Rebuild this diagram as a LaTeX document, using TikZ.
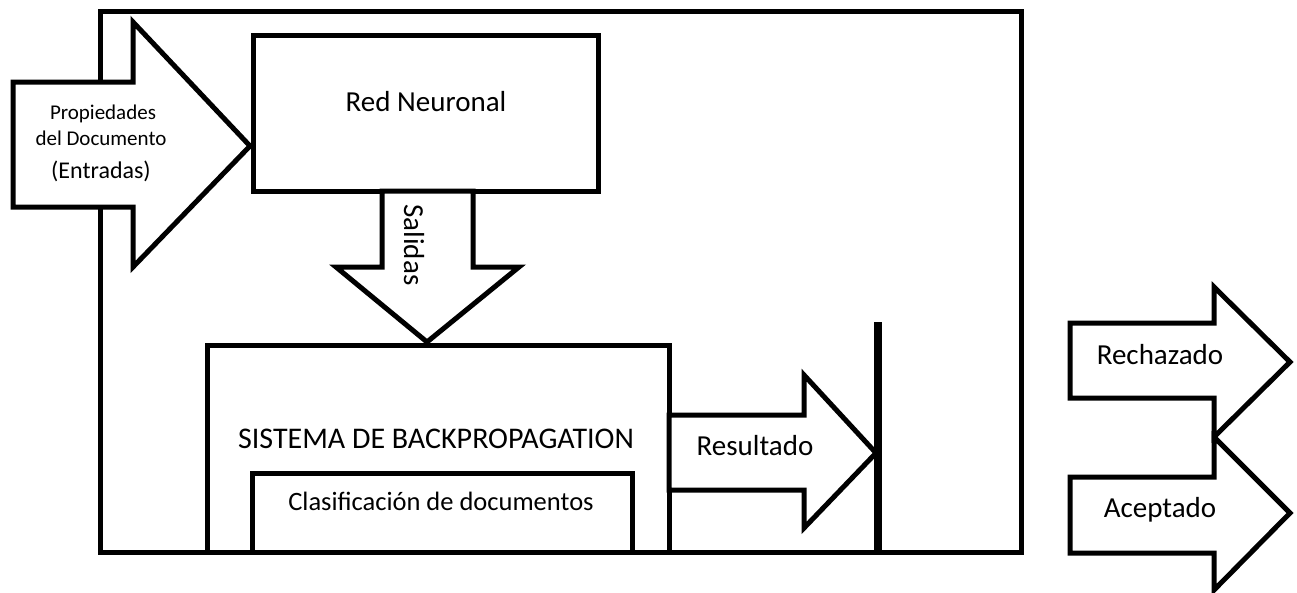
\documentclass[tikz,border=0pt]{standalone}
\usepackage{fontspec}
\setmainfont{Carlito}
\newcommand{\fsz}[1]{\fontsize{#1}{#1}\selectfont}
\begin{document}
\begin{tikzpicture}[x=1pt,y=-1pt]
\tikzset{
  box/.style={draw=black, line width=5pt, fill=white, inner sep=0pt, outer sep=0pt},
  blockarrow/.style={draw=black, line width=5pt, fill=white, line join=miter},
  lbl/.style={inner sep=0pt, anchor=base, font=\fsz{29}},
}
\useasboundingbox (0,0) rectangle (1297,592);

% outer frame
\node[box, fill=none, minimum width=921pt, minimum height=541pt] (frame) at (560.5,281.5) {};

% neural network block
\node[box, minimum width=345pt, minimum height=156pt] (red) at (425.5,113) {};
\node[lbl] (redlbl) at (426,111) {Red Neuronal};

% input arrow
\draw[blockarrow] (13,82) -- (133,82) -- (133,22) -- (250,146) -- (133,267) -- (133,207) -- (13,207) -- cycle;
\node[lbl, font=\fsz{21}] (in1) at (103,119) {Propiedades};
\node[lbl, font=\fsz{21}] (in2) at (101,145) {del Documento};
\node[lbl, font=\fsz{24}] (in3) at (101,178) {(Entradas)};

% outputs arrow
\draw[blockarrow] (382,191) -- (382,267) -- (336,267) -- (427,342) -- (519,267) -- (473,267) -- (473,191) -- cycle;
\node[inner sep=0pt, font=\fsz{29}, rotate=-90] (sal) at (414,245) {Salidas};

% backpropagation system
\node[box, minimum width=462pt, minimum height=207pt] (bp) at (438,448.5) {};
\node[lbl, font=\fsz{30}] (bplbl) at (436,448) {SISTEMA DE BACKPROPAGATION};
\node[box, minimum width=380pt, minimum height=79pt] (cls) at (442,512.5) {};
\node[lbl, font=\fsz{26.5}] (clslbl) at (441,510) {Clasificación de documentos};

% result arrow and decision bar
\draw[blockarrow] (669,415) -- (804,415) -- (804,375) -- (876,453) -- (804,528) -- (804,490) -- (669,490) -- cycle;
\node[lbl] (res) at (755,455) {Resultado};
\coordinate (bartop) at (878,322);
\coordinate (barbot) at (878,554);
\draw[line width=7.5pt] (bartop) -- (barbot);

% decisions
\draw[blockarrow] (1070,323) -- (1214,323) -- (1214,287) -- (1290,362) -- (1214,437) -- (1214,398) -- (1070,398) -- cycle;
\node[lbl] (rej) at (1160,364) {Rechazado};
\draw[blockarrow] (1070,477) -- (1214,477) -- (1214,437) -- (1290,513) -- (1214,590) -- (1214,553) -- (1070,553) -- cycle;
\node[lbl] (acc) at (1160,517) {Aceptado};
\end{tikzpicture}
\end{document}
